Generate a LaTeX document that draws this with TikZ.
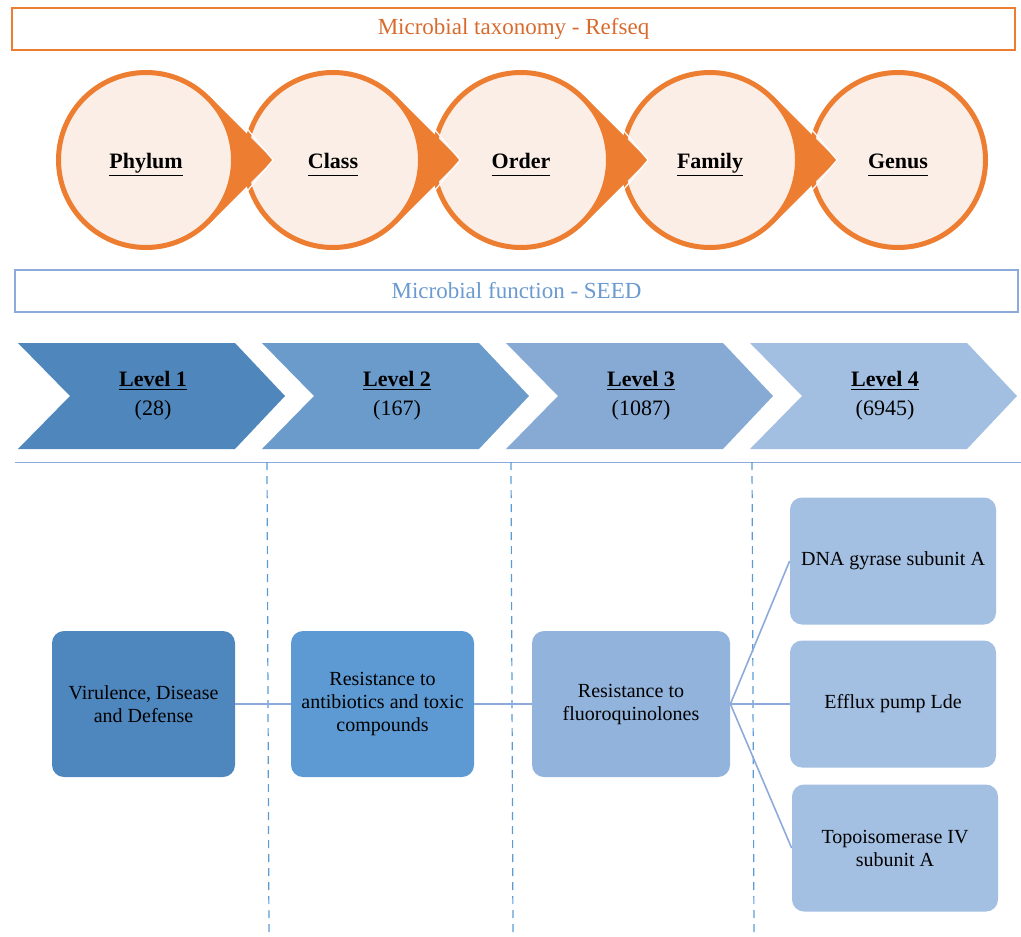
\documentclass[tikz,border=0pt]{standalone}
\usepackage{fontspec}
\setmainfont{Liberation Serif}
\usetikzlibrary{calc,positioning}

\definecolor{taxorange}{HTML}{ED7D31}
\definecolor{taxtext}{HTML}{D86A2C}
\definecolor{taxpeach}{HTML}{FBEEE7}
\definecolor{seedline}{HTML}{8EAADB}
\definecolor{seedtext}{HTML}{6A9AD0}
\definecolor{lvlA}{HTML}{4F87BD}
\definecolor{lvlB}{HTML}{6A9BCB}
\definecolor{lvlC}{HTML}{87AAD5}
\definecolor{lvlD}{HTML}{A2BFE2}
\definecolor{boxA}{HTML}{4E86BE}
\definecolor{boxB}{HTML}{5D9AD3}
\definecolor{boxC}{HTML}{92B3DC}
\definecolor{boxD}{HTML}{A3BFE2}
\definecolor{guide}{HTML}{5B9BD5}

% underline at one depth for every label
\newcommand{\ulbl}[1]{\underline{#1\vphantom{Py}}}

\begin{document}
\begin{tikzpicture}[x=0.5pt, y=-0.5pt,
    taxcircle/.style={circle, draw=taxorange, line width=2.5pt, fill=taxpeach,
        minimum size=87.5pt, text height=12pt, text depth=3.8pt,
        font=\bfseries\fontsize{11}{13}\selectfont},
    titlebox/.style={draw, line width=0.8pt, minimum width=501.5pt, minimum height=21pt,
        font=\fontsize{11.5}{14}\selectfont},
    funcbox/.style={rounded corners=6pt, minimum width=91.5pt, minimum height=73pt,
        align=center, font=\fontsize{10}{11.5}\selectfont},
    genebox/.style={funcbox, fill=boxD, minimum width=103pt, minimum height=63.5pt},
    link/.style={draw=seedline, line width=0.8pt}]
    \useasboundingbox (0,0) rectangle (1021,936);

    % Taxonomy header
    \node[titlebox, draw=taxorange, text=taxtext] (taxtitle) at (513.5,29) {Microbial taxonomy - Refseq};

    % Taxonomy circles, right to left, each pointer under its own circle
    \foreach \x/\name/\lab in {898/genus/Genus, 710/family/Family, 521/order/Order, 333/class/Class, 146/phylum/Phylum} {
        \ifnum\x<800
            \fill[taxorange] (\x+127,160) -- (\x+63.6,96.4) -- (\x+63.6,223.6) -- cycle;
            \draw[white, line width=0.6pt] (\x+98,125) -- (\x+127,160) -- (\x+98,195);
        \fi
        \node[taxcircle] (\name) at (\x,160) {\ulbl{\lab}};
    }

    % Function header
    \node[titlebox, draw=seedline, text=seedtext] (seedtitle) at (516.5,291) {Microbial function - SEED};

    % Level chevrons
    \foreach \x/\col/\lev/\num in {18/lvlA/1/28, 262/lvlB/2/167, 506/lvlC/3/1087, 750/lvlD/4/6945} {
        \fill[\col] (\x,343) -- ++(217,0) -- ++(50,53) -- ++(-50,53) -- ++(-217,0) -- ++(52,-53) -- cycle;
        \node[font=\bfseries\fontsize{11}{13}\selectfont] (lev\lev) at (\x+135,381) {\underline{Level \lev}};
        \node[font=\fontsize{11}{13}\selectfont] (num\lev) at (\x+135,410) {(\num)};
    }

    % Guides
    \draw[seedline, line width=0.5pt] (15,462) -- (1021,462);
    \foreach \x in {267, 511, 752}
        \draw[guide, line width=0.6pt, dash pattern=on 4pt off 3pt] (\x,462) -- (\x+2,936);

    % Example path through the levels
    \node[funcbox, fill=boxA] (virulence) at (143.5,704) {Virulence, Disease\\and Defense};
    \node[funcbox, fill=boxB] (antibiotics) at (382.5,704) {Resistance to\\antibiotics and toxic\\compounds};
    \node[funcbox, fill=boxC, minimum width=99pt] (fluoro) at (631,704) {Resistance to\\fluoroquinolones};
    \node[genebox] (gyrase) at (893,561) {DNA gyrase subunit A};
    \node[genebox] (efflux) at (893,704) {Efflux pump Lde};
    \node[genebox] (topo) at (895,848) {Topoisomerase IV\\subunit A};

    \draw[link] (virulence) -- (antibiotics);
    \draw[link] (antibiotics) -- (fluoro);
    \draw[link] (fluoro.east) -- (gyrase.west);
    \draw[link] (fluoro.east) -- (efflux.west);
    \draw[link] (fluoro.east) -- (topo.west);
\end{tikzpicture}
\end{document}
